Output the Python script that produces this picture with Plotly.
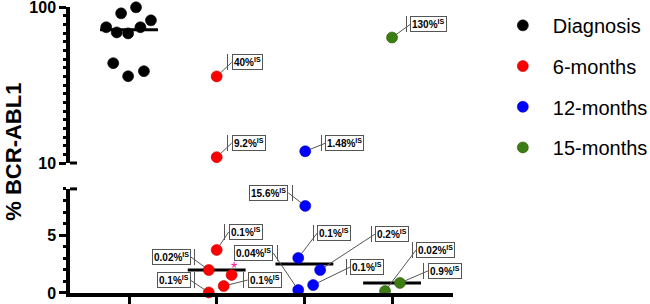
import numpy as np
import plotly.graph_objects as go

# ---------------- data ----------------
groups = ["Diagnosis", "6-months", "12-months", "15-months"]
group_pos = [1, 2, 3, 4]

diag_vals = [74.5, 69, 68, 74.5, 82.5, 91.5, 100, 43.8, 36.1, 38.9]
diag_jit = [-0.26, -0.14, -0.01, 0.13, 0.25, -0.09, 0.08, -0.18, -0.01, 0.17]
diag_labels = [""] * 10

m6_vals = [36, 10.9, 3.72, 1.99, 0.05, 0.6, 1.56]
m6_jit = [0, 0, 0, -0.09, -0.09, 0.08, 0.17]
m6_labels = ["40%", "9.2%", "0.1%", "0.02%", "0.1%", "0.1%", ""]
m6_star = [False, False, False, False, False, False, True]

m12_vals = [11.9, 7.53, 3.03, 0.26, 1.99, 0.69]
m12_jit = [0.01, 0.01, -0.07, -0.07, 0.18, 0.10]
m12_labels = ["1.48%", "15.6%", "0.1%", "0.04%", "0.2%", "0.1%"]

m15_vals = [64, 0.17, 0.87]
m15_jit = [0, -0.08, 0.09]
m15_labels = ["130%", "0.02%", "0.9%"]

break_value = 10          # values >= this go on the upper (log) segment
lower_range = [0, 9]
upper_range_log = [1, 2.002]  # 10 .. 100
upper_ticks = [10, 100]
lower_ticks = [0, 5]

# ---------------- styles ----------------
colors = ["#000000", "#ff0000", "#0000ff", "#3b7d12"]
outline = ["#000000", "#c00000", "#0000b0", "#2a5a0a"]
# label offsets (pixels) and anchor side, per labelled point
m6_off = [(12, -14, "left"), (12, -14, "left"), (9, -18, "left"),
          (-15, -13, "right"), (-15, -12, "right"), (21, -6, "left"), None]
m12_off = [(17, -8, "left"), (-14, -13, "right"), (16, -25, "left"),
           (-22, -37, "right"), (52, -36, "left"), (34, -18, "left")]
m15_off = [(15, -13, "left"), (28, -41, "left"), (25, -12, "left")]
diag_off = [None] * 10

all_vals = [diag_vals, m6_vals, m12_vals, m15_vals]
all_jit = [diag_jit, m6_jit, m12_jit, m15_jit]
all_labels = [diag_labels, m6_labels, m12_labels, m15_labels]
all_off = [diag_off, m6_off, m12_off, m15_off]

fig = go.Figure()
half = 0.33

# median lines
for gi, vals in enumerate(all_vals):
    med = float(np.median(vals))
    ya = "y2" if med >= break_value else "y"
    c = group_pos[gi]
    fig.add_trace(go.Scatter(
        x=[c - half, c + half], y=[med, med], mode="lines", yaxis=ya,
        line=dict(color="black", width=3), showlegend=False,
        hoverinfo="skip", cliponaxis=False))

annotations = []
for gi, vals in enumerate(all_vals):
    c = group_pos[gi]
    xs = np.array([c + j for j in all_jit[gi]])
    v = np.array(vals)
    up = v >= break_value
    first = True
    for mask, ya in ((up, "y2"), (~up, "y")):
        if mask.sum() == 0:
            continue
        fig.add_trace(go.Scatter(
            x=xs[mask], y=v[mask], mode="markers", yaxis=ya,
            name=groups[gi], legendgroup=groups[gi], showlegend=first,
            marker=dict(size=11, color=colors[gi],
                        line=dict(width=0.6, color=outline[gi])),
            cliponaxis=False))
        first = False
    for k, lab in enumerate(all_labels[gi]):
        if not lab:
            continue
        ax, ay, side = all_off[gi][k]
        ya = "y2" if vals[k] >= break_value else "y"
        yy = np.log10(vals[k]) if ya == "y2" else vals[k]
        # thin bar beside the label box (callout style)
        bar_dx = ax - 1 if side == "left" else ax + 1
        annotations.append(dict(
            x=xs[k], y=yy, xref="x", yref=ya, text=" ", showarrow=False,
            xshift=bar_dx, yshift=-ay, xanchor="center", yanchor="middle",
            width=1, height=16, borderpad=0, borderwidth=0,
            bgcolor="#555555", font=dict(size=2)))
        box_ax = ax + 3 if side == "left" else ax - 3
        annotations.append(dict(
            x=xs[k], y=yy, xref="x", yref=ya,
            text="<b>" + lab + "<sup>IS</sup></b>",
            showarrow=True, arrowhead=0, arrowwidth=1, arrowcolor="#555555",
            ax=box_ax, ay=ay, axref="pixel", ayref="pixel",
            xanchor=side, yanchor="middle", standoff=5,
            font=dict(family="Liberation Sans", size=10, color="black"),
            bgcolor="white", bordercolor="#555555", borderwidth=1, borderpad=1))

# star on the 6-month point
for k, s in enumerate(m6_star):
    if s:
        annotations.append(dict(
            x=2 + m6_jit[k], y=m6_vals[k], xref="x", yref="y",
            text="*", showarrow=False, xshift=2, yshift=6,
            font=dict(family="Liberation Sans", size=16, color="#ff1493")))

# y-axis title
annotations.append(dict(
    x=-0.186, y=0.495, xref="paper", yref="paper", text="% BCR-ABL1",
    textangle=-90, showarrow=False,
    font=dict(family="Liberation Sans", size=22, color="black", weight="bold")))

axis_common = dict(showgrid=False, zeroline=False, showline=True,
                   linecolor="black", linewidth=3.5, ticks="outside",
                   tickcolor="black", tickwidth=3, ticklen=7, automargin=False)
tickfont = dict(family="Liberation Sans", size=16, color="black", weight="bold")

fig.update_layout(
    width=650, height=304,
    margin=dict(l=70, r=197, t=7, b=11, autoexpand=False),
    paper_bgcolor="white", plot_bgcolor="white",
    annotations=annotations,
    xaxis=dict(range=[0.327, 4.695], tickvals=group_pos,
               showticklabels=False, anchor="y", **axis_common),
    yaxis=dict(domain=[0, 0.364], range=lower_range, tickvals=lower_ticks,
               tickfont=tickfont, anchor="x", ticklabeloverflow="allow",
               minor=dict(ticks="outside", ticklen=3.5, tickwidth=2.5,
                          tickcolor="black", dtick=1),
               **axis_common),
    yaxis2=dict(domain=[0.4545, 1], type="log", range=upper_range_log,
                tickvals=upper_ticks, ticktext=[str(t) for t in upper_ticks],
                tickfont=tickfont, anchor="x", ticklabeloverflow="allow",
                minor=dict(ticks="outside", ticklen=3.5, tickwidth=2.5,
                           tickcolor="black", dtick=1 / 18),
                **axis_common),
    legend=dict(x=1.104, y=1.004, xanchor="left", yanchor="top",
                font=dict(family="Liberation Sans", size=20, color="black"),
                tracegroupgap=11.7, itemwidth=50, bgcolor="rgba(0,0,0,0)"),
    shapes=[
        dict(type="line", xref="x", xsizemode="pixel", xanchor=0.327,
             x0=-7, x1=7, yref="y2 domain", y0=0, y1=0,
             line=dict(color="black", width=3)),
        dict(type="line", xref="x", xsizemode="pixel", xanchor=0.327,
             x0=-2, x1=7, yref="y domain", y0=1, y1=1,
             line=dict(color="black", width=3)),
    ],
)

fig.write_html("out.html", config={"displayModeBar": False},
               post_script="document.body.style.margin='0';")
